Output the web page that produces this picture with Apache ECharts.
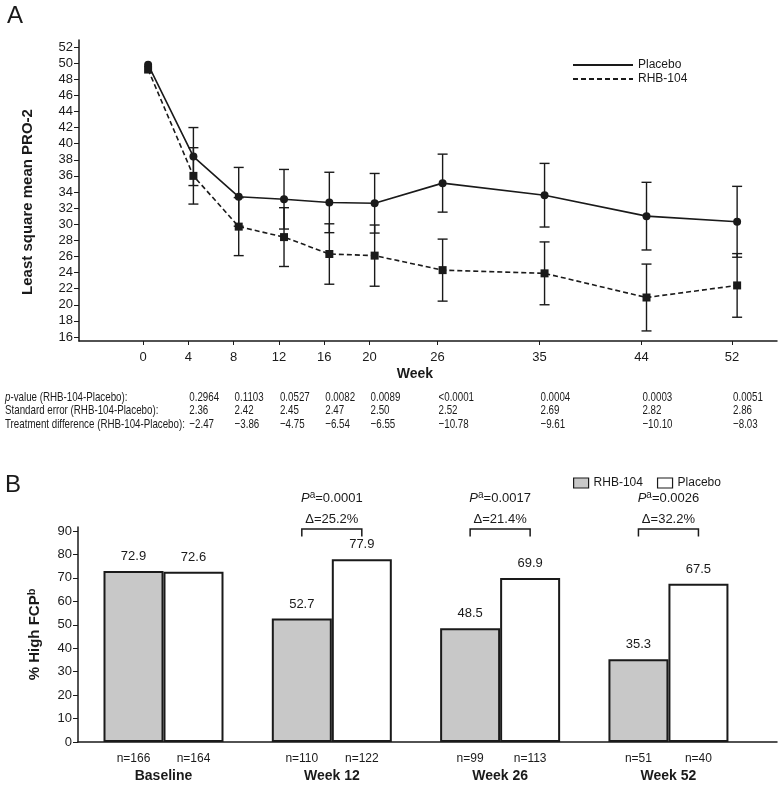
<!DOCTYPE html>
<html>
<head>
<meta charset="utf-8">
<script src="https://cdn.jsdelivr.net/npm/echarts@6/dist/echarts.min.js"></script>
<style>html,body{margin:0;padding:0;background:#fff}#main{width:780px;height:788px}</style>
</head>
<body>
<div id="main"></div>
<script>
// panel A: least square mean PRO-2 by week
var weeks = [0, 4, 8, 12, 16, 20, 26, 35, 44, 52];
var placeboMean = [49.8, 38.4, 33.4, 33.1, 32.7, 32.6, 35.1, 33.6, 31.0, 30.3];
var placeboErr = [null, 3.6, 3.65, 3.7, 3.75, 3.7, 3.6, 3.95, 4.2, 4.4];
var rhbMean = [49.2, 36.0, 29.7, 28.4, 26.3, 26.1, 24.3, 23.9, 20.9, 22.4];
var rhbErr = [null, 3.5, 3.6, 3.65, 3.75, 3.8, 3.85, 3.9, 4.15, 3.95];
var weekTicks = [0, 4, 8, 12, 16, 20, 26, 35, 44, 52];
var pro2Ticks = [16, 18, 20, 22, 24, 26, 28, 30, 32, 34, 36, 38, 40, 42, 44, 46, 48, 50, 52];

// table under panel A
var tableWeeks = [4, 8, 12, 16, 20, 26, 35, 44, 52];
var pValues = ['0.2964', '0.1103', '0.0527', '0.0082', '0.0089', '<0.0001', '0.0004', '0.0003', '0.0051'];
var seDiff = ['2.36', '2.42', '2.45', '2.47', '2.50', '2.52', '2.69', '2.82', '2.86'];
var trtDiff = ['\u22122.47', '\u22123.86', '\u22124.75', '\u22126.54', '\u22126.55', '\u221210.78', '\u22129.61', '\u221210.10', '\u22128.03'];

// panel B: % high FCP
var visits = ['Baseline', 'Week 12', 'Week 26', 'Week 52'];
var rhbPct = [72.9, 52.7, 48.5, 35.3];
var placeboPct = [72.6, 77.9, 69.9, 67.5];
var rhbN = [166, 110, 99, 51];
var placeboN = [164, 122, 113, 40];
var compP = [null, '0.0001', '0.0017', '0.0026'];
var compDelta = [null, '25.2%', '21.4%', '32.2%'];
var pctTicks = [0, 10, 20, 30, 40, 50, 60, 70, 80, 90];

var FONT = "'Liberation Sans', Arial, sans-serif";
var INK = '#1a1a1a';
var JIT = 0.45;   // points sit a little right of the tick
var BAR_W = 60;
var NARROW = 0.75; // squeeze table text like the condensed original

function pairs(xs, ys) {
	return xs.map(function (x, i) { return [x + JIT, ys[i]]; });
}
function errRows(xs, ys, es) {
	var out = [];
	xs.forEach(function (x, i) {
		if (es[i] != null) out.push([x + JIT, ys[i] - es[i], ys[i] + es[i]]);
	});
	return out;
}
function errBar(params, api) {
	var lo = api.coord([api.value(0), api.value(1)]);
	var hi = api.coord([api.value(0), api.value(2)]);
	var st = { stroke: INK, lineWidth: 1.4 };
	return {
		type: 'group',
		children: [
			{ type: 'line', shape: { x1: lo[0], y1: lo[1], x2: hi[0], y2: hi[1] }, style: st },
			{ type: 'line', shape: { x1: lo[0] - 5, y1: lo[1], x2: lo[0] + 5, y2: lo[1] }, style: st },
			{ type: 'line', shape: { x1: hi[0] - 5, y1: hi[1], x2: hi[0] + 5, y2: hi[1] }, style: st }
		]
	};
}
function rowLabel(text, y) {
	return {
		type: 'text', x: 5, y: y, scaleX: NARROW, originX: 0,
		style: { text: text, fontFamily: FONT, fontSize: 13, fill: INK, verticalAlign: 'middle',
			rich: { i: { fontStyle: 'italic', fontFamily: FONT, fontSize: 13, fill: INK } } }
	};
}

var txt = { fontFamily: FONT, fontSize: 12, color: INK };
var tickTxt = { fontFamily: FONT, fontSize: 13, color: INK };

var myChart = echarts.init(document.getElementById('main'));
var option = {
	animation: false,
	backgroundColor: '#fff',
	textStyle: { fontFamily: FONT, color: INK },
	grid: [
		{ left: 79, top: 40, width: 698, height: 301 },
		{ left: 78, top: 527, width: 699, height: 215 }
	],
	xAxis: [
		{
			gridIndex: 0, type: 'value', min: -5.65, max: 55.97,
			name: 'Week', nameLocation: 'middle', nameGap: 26,
			nameTextStyle: { fontFamily: FONT, fontSize: 14, fontWeight: 'bold', color: INK, padding: [0, 26, 0, 0] },
			axisLine: { onZero: false, lineStyle: { color: INK, width: 1.5 } },
			axisTick: { show: true, length: 4, customValues: weekTicks, lineStyle: { color: INK } },
			axisLabel: Object.assign({ customValues: weekTicks, margin: 10 }, tickTxt),
			splitLine: { show: false }
		},
		{
			gridIndex: 1, type: 'value', min: -0.508, max: 3.645,
			axisLine: { onZero: false, lineStyle: { color: INK, width: 1.5 } },
			axisTick: { show: false },
			axisLabel: {
				customValues: [0, 1, 2, 3], margin: 8,
				formatter: function (v) {
					var i = Math.round(v);
					return '{n|n=' + rhbN[i] + '}{n|n=' + placeboN[i] + '}\n{c|' + visits[i] + '}';
				},
				rich: {
					n: { width: BAR_W, align: 'center', fontFamily: FONT, fontSize: 12, color: INK, lineHeight: 17 },
					c: { fontFamily: FONT, fontSize: 14, fontWeight: 'bold', color: INK, lineHeight: 18 }
				}
			},
			splitLine: { show: false }
		}
	],
	yAxis: [
		{
			gridIndex: 0, type: 'value', min: 15.5, max: 52.87,
			axisLine: { show: true, onZero: false, lineStyle: { color: INK, width: 1.5 } },
			axisTick: { show: true, length: 5, customValues: pro2Ticks, lineStyle: { color: INK } },
			axisLabel: Object.assign({ customValues: pro2Ticks, margin: 6 }, tickTxt),
			splitLine: { show: false }
		},
		{
			gridIndex: 1, type: 'value', min: 0, max: 91.7,
			name: '{t|% High FCP}{s|b}', nameLocation: 'middle', nameGap: 34,
			nameTextStyle: {
				rich: {
					t: { fontFamily: FONT, fontSize: 15, fontWeight: 'bold', color: INK, lineHeight: 18 },
					s: { fontFamily: FONT, fontSize: 11, fontWeight: 'bold', color: INK, lineHeight: 10, verticalAlign: 'top' }
				}
			},
			axisLine: { show: true, onZero: false, lineStyle: { color: INK, width: 1.5 } },
			axisTick: { show: true, length: 5, customValues: pctTicks, lineStyle: { color: INK } },
			axisLabel: Object.assign({ customValues: pctTicks, margin: 6 }, tickTxt),
			splitLine: { show: false }
		}
	],
	legend: [
		{
			data: ['Placebo', 'RHB-104'], orient: 'vertical', left: 572, top: 59, padding: 0,
			itemWidth: 60, itemHeight: 12, itemGap: 2, selectedMode: false,
			itemStyle: { opacity: 0 },
			textStyle: txt
		},
		{
			data: ['RHB-104|B', 'Placebo|B'], left: 573, top: 477, padding: 0,
			itemWidth: 15, itemHeight: 10, itemGap: 14, icon: 'rect', selectedMode: false,
			formatter: function (n) { return n.split('|')[0]; },
			itemStyle: { borderColor: INK, borderWidth: 1.2 },
			textStyle: txt
		}
	],
	graphic: [
		{ type: 'text', left: 7, top: 4, style: { text: 'A', fontFamily: FONT, fontSize: 24, fill: INK } },
		{ type: 'text', left: 5, top: 473, style: { text: 'B', fontFamily: FONT, fontSize: 24, fill: INK } },
		{ type: 'text', x: 28, y: 202, rotation: Math.PI / 2,
			style: { text: 'Least square mean PRO-2', fontFamily: FONT, fontSize: 15, fontWeight: 'bold', fill: INK,
				align: 'center', verticalAlign: 'middle' } },
		rowLabel('{i|p}-value (RHB-104-Placebo):', 397),
		rowLabel('Standard error (RHB-104-Placebo):', 410),
		rowLabel('Treatment difference (RHB-104-Placebo):', 424)
	],
	series: [
		{
			name: 'Placebo', type: 'line', xAxisIndex: 0, yAxisIndex: 0,
			data: pairs(weeks, placeboMean),
			symbol: 'circle', symbolSize: 8, z: 5,
			itemStyle: { color: INK },
			lineStyle: { color: INK, width: 1.6, type: 'solid' }
		},
		{
			name: 'RHB-104', type: 'line', xAxisIndex: 0, yAxisIndex: 0,
			data: pairs(weeks, rhbMean),
			symbol: 'rect', symbolSize: 8, z: 5,
			itemStyle: { color: INK },
			lineStyle: { color: INK, width: 1.6, type: [5, 3] }
		},
		{
			type: 'custom', xAxisIndex: 0, yAxisIndex: 0, clip: false, silent: true,
			data: errRows(weeks, placeboMean, placeboErr), renderItem: errBar
		},
		{
			type: 'custom', xAxisIndex: 0, yAxisIndex: 0, clip: false, silent: true,
			data: errRows(weeks, rhbMean, rhbErr), renderItem: errBar
		},
		{
			// table of comparisons, one column per week
			type: 'custom', xAxisIndex: 0, yAxisIndex: 0, clip: false, silent: true,
			data: tableWeeks.map(function (w, i) { return [w, i]; }),
			renderItem: function (params, api) {
				var i = api.value(1);
				var p = api.coord([api.value(0), 15.5]);
				return {
					type: 'group',
					children: [pValues[i], seDiff[i], trtDiff[i]].map(function (s, r) {
						return { type: 'text', x: p[0] + 1, y: p[1] + 56 + r * 13.5, scaleX: NARROW, originX: 0,
							style: { text: s, fontFamily: FONT, fontSize: 13, fill: INK, align: 'left', verticalAlign: 'middle' } };
					})
				};
			}
		},
		{
			name: 'RHB-104|B', type: 'bar', xAxisIndex: 1, yAxisIndex: 1,
			data: rhbPct.map(function (v, i) { return [i, v]; }),
			barWidth: BAR_W, barGap: '0%',
			itemStyle: { color: '#c8c8c8', borderColor: INK, borderWidth: 2 },
			label: { show: true, position: 'top', distance: 8, fontFamily: FONT, fontSize: 13, color: INK,
				formatter: function (p) { return p.value[1].toFixed(1); } }
		},
		{
			name: 'Placebo|B', type: 'bar', xAxisIndex: 1, yAxisIndex: 1,
			data: placeboPct.map(function (v, i) { return [i, v]; }),
			barWidth: BAR_W, barGap: '0%',
			itemStyle: { color: '#ffffff', borderColor: INK, borderWidth: 2 },
			label: { show: true, position: 'top', distance: 8, fontFamily: FONT, fontSize: 13, color: INK,
				formatter: function (p) { return p.value[1].toFixed(1); } }
		},
		{
			// brackets with p-value and difference
			type: 'custom', xAxisIndex: 1, yAxisIndex: 1, clip: false, silent: true,
			data: compP.map(function (p, i) { return [i]; }).filter(function (d) { return compP[d[0]] != null; }),
			renderItem: function (params, api) {
				var i = api.value(0);
				var top = api.coord([i, 90.8]);
				var leg = api.coord([i, 87.6]);
				var hw = BAR_W / 2;
				return {
					type: 'group',
					children: [
						{ type: 'polyline', shape: { points: [[top[0] - hw, leg[1]], [top[0] - hw, top[1]], [top[0] + hw, top[1]], [top[0] + hw, leg[1]]] },
							style: { stroke: INK, lineWidth: 1.5, fill: null } },
						{ type: 'text', x: top[0], y: top[1] - 10,
							style: { text: '\u0394=' + compDelta[i], fontFamily: FONT, fontSize: 13, fill: INK, align: 'center', verticalAlign: 'middle' } },
						{ type: 'text', x: top[0], y: top[1] - 31,
							style: { text: '{i|P}{s|a}{t|=' + compP[i] + '}', align: 'center', verticalAlign: 'middle',
								rich: {
									i: { fontFamily: FONT, fontSize: 13, fontStyle: 'italic', fill: INK, lineHeight: 16 },
									s: { fontFamily: FONT, fontSize: 10, fill: INK, lineHeight: 9, verticalAlign: 'top' },
									t: { fontFamily: FONT, fontSize: 13, fill: INK, lineHeight: 16 }
								} } }
					]
				};
			}
		}
	]
};
myChart.setOption(option);
</script>
</body>
</html>
